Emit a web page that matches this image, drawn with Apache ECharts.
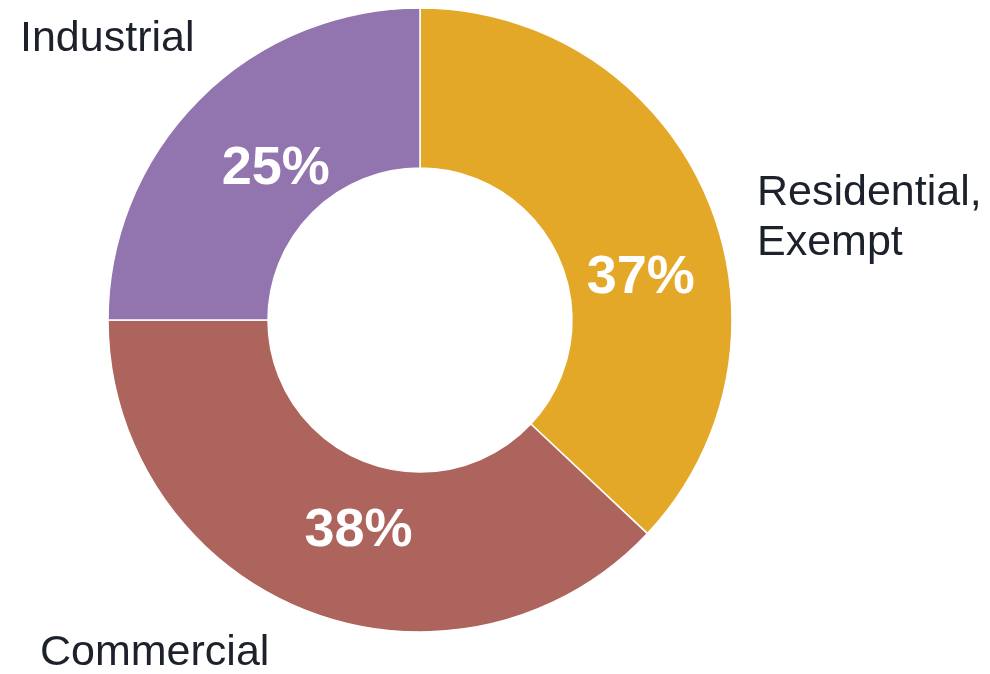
<!DOCTYPE html>
<html>
<head>
<meta charset="utf-8">
<script src="https://cdn.jsdelivr.net/npm/echarts@6/dist/echarts.min.js"></script>
<style>html,body{margin:0;padding:0;background:#fff}#c{width:990px;height:674px}</style>
</head>
<body>
<div id="c"></div>
<script>
const categories = ['Residential,\nExempt', 'Commercial', 'Industrial'];
const values = [37, 38, 25];
const colors = ['#E4A828', '#AC645D', '#9275AF'];

const labelOffsets = [[5, 51], [25, -7], [22, 15]];
const namePos = [
  {left: 757, top: 168},
  {left: 40, top: 628},
  {left: 20, top: 14}
];

const chart = echarts.init(document.getElementById('c'));
chart.setOption({
  animation: false,
  series: [{
    type: 'pie',
    center: [420, 320],
    radius: [152, 312],
    startAngle: 90,
    clockwise: true,
    avoidLabelOverlap: false,
    itemStyle: {borderColor: '#fff', borderWidth: 1.5},
    label: {
      show: true,
      position: 'inside',
      formatter: p => p.value + '%',
      color: '#fff',
      fontFamily: 'Liberation Sans, Arial, sans-serif',
      fontWeight: 'bold',
      fontSize: 54
    },
    labelLine: {show: false},
    labelLayout: function (params) {
      const o = labelOffsets[params.dataIndex];
      return {dx: o[0], dy: o[1]};
    },
    emphasis: {disabled: true},
    data: categories.map((c, i) => ({name: c, value: values[i], itemStyle: {color: colors[i]}}))
  }],
  graphic: categories.map((c, i) => ({
    type: 'text',
    left: namePos[i].left,
    top: namePos[i].top,
    style: {
      text: c,
      fill: '#1D212B',
      font: '43px "Liberation Sans", Arial, sans-serif',
      lineHeight: 50
    }
  }))
});
</script>
</body>
</html>
